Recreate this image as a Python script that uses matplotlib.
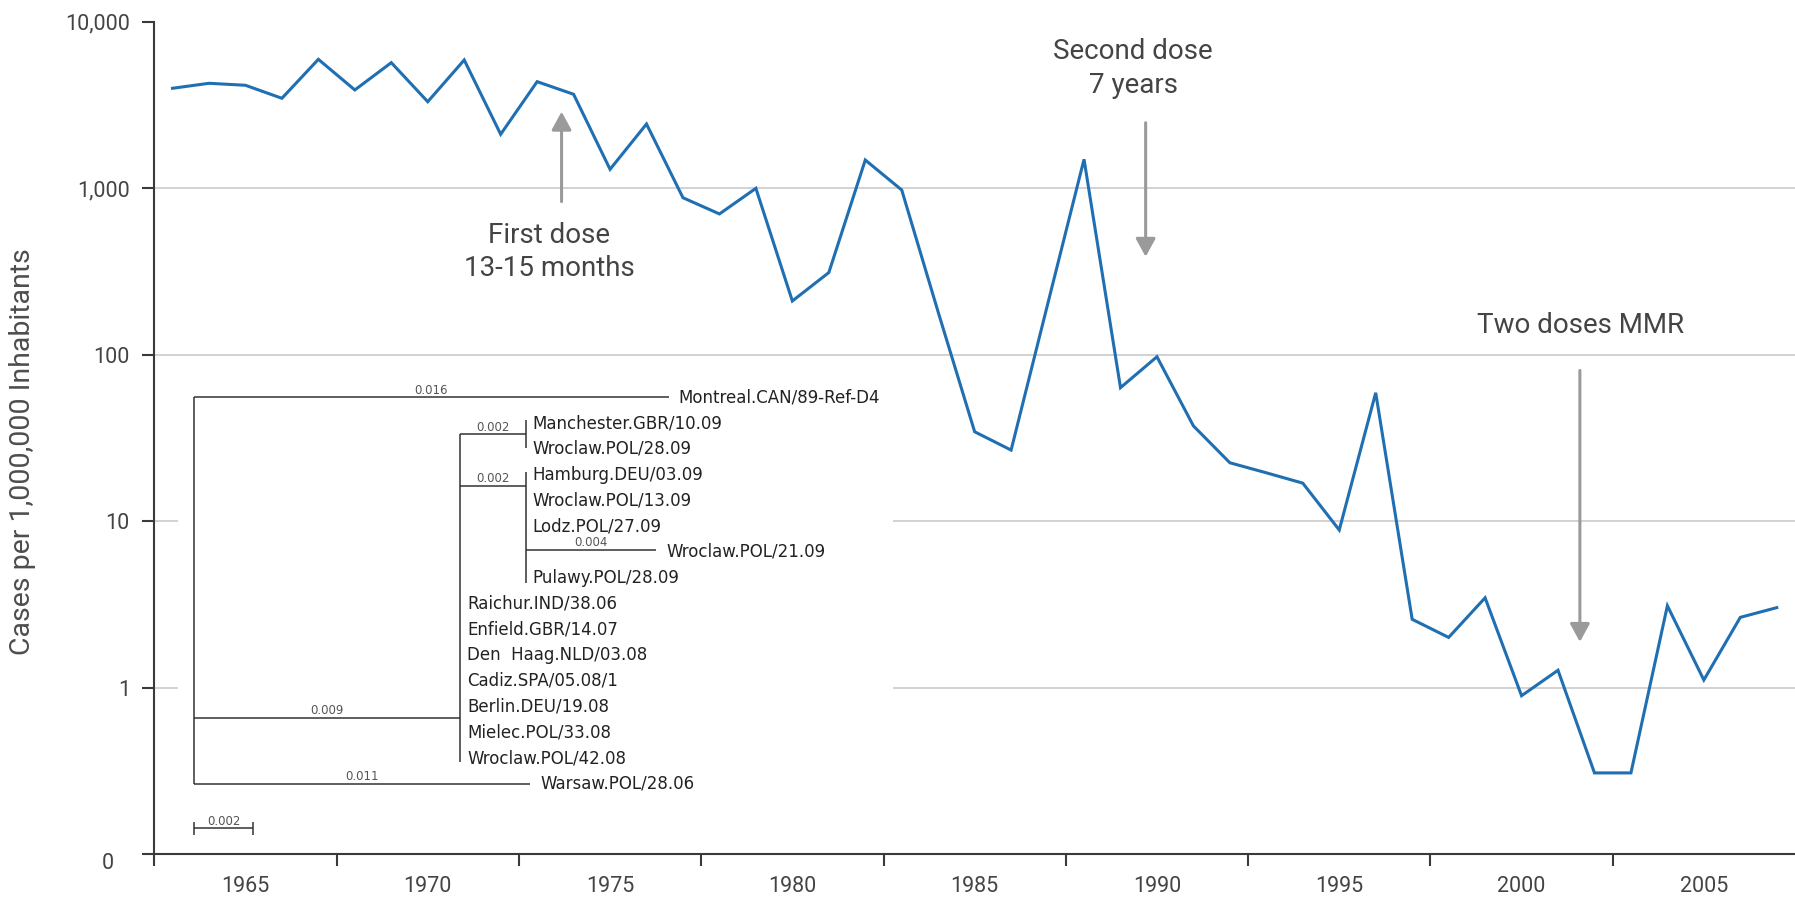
import matplotlib
matplotlib.use("Agg")
import matplotlib.pyplot as plt
from matplotlib.ticker import NullLocator
from matplotlib.transforms import ScaledTranslation

plt.rcParams['font.family'] = ['Roboto', 'DejaVu Sans']

# ---------------- data ----------------
years = list(range(1963, 2008))
cases = [3981, 4266, 4150, 3467, 5943, 3890, 5675, 3306, 5888, 2107,
         4363, 3664, 1298, 2429, 876, 700, 998, 210, 311, 1476,
         975, 180, 34.4, 26.7, 200, 1490, 63.3, 97.1, 37.3, 22.4,
         19.5, 16.9, 8.84, 59.0, 2.57, 2.00, 3.46, 0.893, 1.27, 0.307,
         0.307, 3.10, 1.11, 2.64, 3.02]

ytick_values = [0.1, 1, 10, 100, 1000, 10000]
ytick_labels = ['0', '1', '10', '100', '1,000', '10,000']
grid_values = [1, 10, 100, 1000]
xlabel_years = [1965, 1970, 1975, 1980, 1985, 1990, 1995, 2000, 2005]

# phylogenetic tree (inset)
tree_leaves = ["Montreal.CAN/89-Ref-D4", "Manchester.GBR/10.09", "Wroclaw.POL/28.09",
               "Hamburg.DEU/03.09", "Wroclaw.POL/13.09", "Lodz.POL/27.09",
               "Wroclaw.POL/21.09", "Pulawy.POL/28.09", "Raichur.IND/38.06",
               "Enfield.GBR/14.07", "Den  Haag.NLD/03.08", "Cadiz.SPA/05.08/1",
               "Berlin.DEU/19.08", "Mielec.POL/33.08", "Wroclaw.POL/42.08",
               "Warsaw.POL/28.06"]
bl_montreal = 0.0161
bl_inner = 0.0090
bl_node1 = 0.00225
bl_node2 = 0.00225
bl_w21 = 0.0044
bl_warsaw = 0.0114
bl_scale = 0.002

# ---------------- figure ----------------
W, H = 1795, 900
fig = plt.figure(figsize=(W / 100, H / 100), dpi=100)

def fx(px):
    return px / W

def fy(py):
    return 1 - py / H

ax = fig.add_axes([fx(154.3), fy(854), fx(1795) - fx(154.3), fy(21.7) - fy(854)])
ax.set_yscale('log')
ax.set_ylim(0.1, 10000)
ax.set_xlim(1962.5, 2007.5)

for g in grid_values:
    ax.axhline(g, color='#cfcfcf', lw=1.3, zorder=0)

line_color = '#1f6fb2'
ax.plot(years, cases, color=line_color, lw=2.2, solid_joinstyle='miter', zorder=3)

for s in ['top', 'right']:
    ax.spines[s].set_visible(False)
for s in ['left', 'bottom']:
    ax.spines[s].set_color('#3a3a3a')
    ax.spines[s].set_linewidth(1.5)

ax.set_yticks(ytick_values)
ax.set_yticklabels(ytick_labels)
ax.yaxis.set_minor_locator(NullLocator())
ax.tick_params(axis='y', which='major', length=8.6, width=1.5, color='#3a3a3a',
               labelsize=15.5, labelcolor='#444444', pad=9)
zero_lbl = ax.get_yticklabels()[0]
zero_lbl.set_transform(zero_lbl.get_transform() +
                       ScaledTranslation(-0.16, -0.07, fig.dpi_scale_trans))

ax.set_xticks([y - 2.5 for y in xlabel_years])
ax.set_xticks(xlabel_years, minor=True)
ax.set_xticklabels([str(y) for y in xlabel_years], minor=True)
ax.tick_params(axis='x', which='major', length=8.6, width=1.5, color='#3a3a3a',
               labelbottom=False)
ax.tick_params(axis='x', which='minor', length=0, labelsize=15.5,
               labelcolor='#444444', pad=16)

fig.text(fx(23), fy(452), 'Cases per 1,000,000 Inhabitants', rotation=90,
         ha='center', va='center', fontsize=20.5, color='#4d4d4d')

# annotations
txt_color = '#444444'
arrow_kw = dict(arrowstyle='-|>,head_length=0.55,head_width=0.3', color='#9a9a9a',
                lw=2.2, shrinkA=0, shrinkB=0, mutation_scale=20)

ax.text(1973.33, 412, 'First dose\n13-15 months', ha='center', va='center',
        fontsize=20, color=txt_color, linespacing=1.3)
ax.annotate('', xy=(1973.67, 2880), xytext=(1973.67, 830), arrowprops=arrow_kw)

ax.text(1989.35, 5236, 'Second dose\n7 years', ha='center', va='center',
        fontsize=20, color=txt_color, linespacing=1.3)
ax.annotate('', xy=(1989.69, 387), xytext=(1989.69, 2473), arrowprops=arrow_kw)

ax.text(2001.62, 150.6, 'Two doses MMR', ha='center', va='center',
        fontsize=20, color=txt_color)
ax.annotate('', xy=(2001.6, 1.88), xytext=(2001.6, 80.3), arrowprops=arrow_kw)

# ---------------- tree inset ----------------
px_per_unit = 29500.0
row0_px, row_step = 397.3, 25.77
tax = fig.add_axes([fx(178), fy(845), fx(893) - fx(178), fy(362) - fy(845)])
tax.set_facecolor('white')
for s in tax.spines.values():
    s.set_visible(False)
tax.set_xticks([])
tax.set_yticks([])
tax.set_xlim((178 - 194) / px_per_unit, (893 - 194) / px_per_unit)
tax.set_ylim((845 - row0_px) / row_step, (362 - row0_px) / row_step)

tc = '#333333'
tlw = 1.1
leaf_kw = dict(fontsize=12, family='DejaVu Sans', color='#222222',
               va='center', ha='left', textcoords='offset points')
bl_kw = dict(fontsize=8.5, family='DejaVu Sans', color='#555555',
             va='bottom', ha='center', textcoords='offset points')

def hline(x0, x1, r, label=None):
    tax.plot([x0, x1], [r, r], color=tc, lw=tlw, solid_capstyle='butt')
    if label:
        tax.annotate(label, ((x0 + x1) / 2, r), xytext=(0, 0.5), **bl_kw)

def vline(x, r0, r1):
    tax.plot([x, x], [r0, r1], color=tc, lw=tlw, solid_capstyle='butt')

def leaf(i, x, off=6):
    tax.annotate(tree_leaves[i], (x, i), xytext=(off, 0), **leaf_kw)

# root
vline(0, 0, 15)
hline(0, bl_montreal, 0, f"{bl_montreal:.3f}")
leaf(0, bl_montreal, 7)
hline(0, bl_warsaw, 15, f"{bl_warsaw:.3f}")
leaf(15, bl_warsaw, 7)

# inner clade
hline(0, bl_inner, 12.43, f"{bl_inner:.3f}")
vline(bl_inner, 1.44, 14.14)
for i in range(8, 15):
    leaf(i, bl_inner, 5.5)

n1 = bl_inner + bl_node1
hline(bl_inner, n1, 1.44, f"{bl_node1:.3f}")
vline(n1, 0.88, 1.98)
for i in (1, 2):
    leaf(i, n1, 5)

n2 = bl_inner + bl_node2
hline(bl_inner, n2, 3.44, f"{bl_node2:.3f}")
vline(n2, 2.89, 7.2)
for i in (3, 4, 5, 7):
    leaf(i, n2, 5)
hline(n2, n2 + bl_w21, 5.93, f"{bl_w21:.3f}")
leaf(6, n2 + bl_w21, 8)

# scale bar
sb_row = 16.73
hline(0, bl_scale, sb_row, f"{bl_scale:.3f}")
vline(0, sb_row - 0.26, sb_row + 0.26)
vline(bl_scale, sb_row - 0.26, sb_row + 0.26)

fig.savefig('out.png', dpi=100)
